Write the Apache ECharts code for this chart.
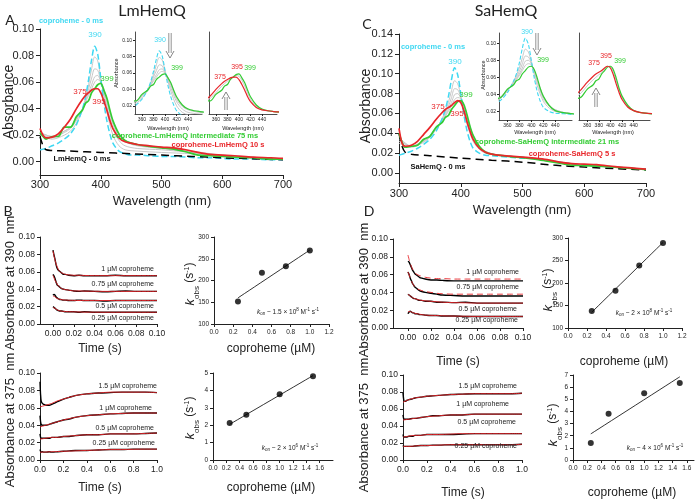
<!DOCTYPE html>
<html><head><meta charset="utf-8">
<script src="https://cdn.jsdelivr.net/npm/echarts@6/dist/echarts.min.js"></script>
<style>html,body{margin:0;padding:0;background:#fff}#c{width:700px;height:500px}</style>
</head><body><div id="c"></div>
<script>
// ---------- DATA ----------
const wl = [300,305,310,320,330,340,350,360,370,375,380,385,390,395,400,405,410,415,420,430,440,450,460,480,500,520,540,560,580,600,620,650,680,700];
const wlBlk = [300,305,310,320,350,400,450,500,550,600,650,700];
const wlG = [300,320,340,350,360,370,380,385,390,395,400,405,410,420,430,440,460,500,550,600,700];
// Panel A (LmHemQ)
const lmCopro0 = [0.009,0.0095,0.010,0.012,0.014,0.017,0.021,0.028,0.040,0.049,0.062,0.077,0.087,0.081,0.063,0.045,0.031,0.021,0.014,0.008,0.006,0.005,0.005,0.0045,0.004,0.004,0.0035,0.003,0.003,0.0025,0.002,0.002,0.0015,0.0015];
const lmInter75 = [0.022,0.019,0.017,0.019,0.019,0.026,0.026,0.034,0.039,0.044,0.046,0.052,0.055,0.058,0.059,0.054,0.048,0.039,0.031,0.021,0.016,0.014,0.013,0.0115,0.0105,0.0095,0.0075,0.005,0.0045,0.004,0.0035,0.003,0.002,0.002];
const lm10s = [0.025,0.020,0.018,0.0185,0.021,0.026,0.032,0.040,0.047,0.050,0.052,0.054,0.055,0.055,0.052,0.046,0.039,0.031,0.025,0.018,0.015,0.014,0.013,0.012,0.011,0.0105,0.009,0.007,0.0055,0.005,0.0045,0.0035,0.003,0.0025];
const lmEnz0 = [0.019,0.012,0.009,0.0085,0.008,0.007,0.006,0.005,0.004,0.003,0.0022,0.0015];
const lmGray = [
 [0.020,0.017,0.020,0.023,0.029,0.039,0.058,0.070,0.079,0.076,0.063,0.050,0.038,0.020,0.012,0.009,0.008,0.007,0.006,0.004,0.002],
 [0.021,0.018,0.022,0.025,0.031,0.040,0.055,0.063,0.070,0.069,0.061,0.052,0.042,0.025,0.016,0.012,0.010,0.009,0.007,0.005,0.002],
 [0.022,0.019,0.023,0.026,0.032,0.040,0.052,0.058,0.064,0.065,0.060,0.053,0.045,0.028,0.019,0.015,0.012,0.010,0.007,0.004,0.002],
 [0.022,0.019,0.023,0.026,0.033,0.040,0.050,0.055,0.060,0.062,0.060,0.055,0.047,0.030,0.020,0.016,0.013,0.011,0.008,0.005,0.002]
];
const lmGrayLate = [0.023,0.019,0.025,0.029,0.036,0.044,0.050,0.053,0.055,0.057,0.056,0.051,0.044,0.028,0.019,0.015,0.013,0.011,0.008,0.005,0.002];
// Panel C (SaHemQ)
const saCopro0 = [0.018,0.019,0.020,0.022,0.025,0.029,0.034,0.042,0.055,0.064,0.077,0.094,0.106,0.099,0.080,0.059,0.043,0.032,0.025,0.020,0.018,0.0175,0.017,0.016,0.015,0.0145,0.013,0.011,0.009,0.008,0.007,0.006,0.0045,0.004];
const saInter21 = [0.040,0.031,0.026,0.027,0.028,0.034,0.037,0.046,0.051,0.056,0.058,0.064,0.068,0.072,0.073,0.069,0.059,0.047,0.038,0.027,0.021,0.019,0.018,0.0165,0.0155,0.014,0.012,0.010,0.008,0.0075,0.007,0.006,0.0045,0.0035];
const sa5s = [0.045,0.030,0.027,0.028,0.032,0.039,0.046,0.054,0.061,0.064,0.066,0.068,0.071,0.073,0.071,0.063,0.052,0.042,0.034,0.025,0.021,0.019,0.018,0.017,0.016,0.015,0.0135,0.011,0.0095,0.009,0.0085,0.0065,0.005,0.004];
const saEnz0 = [0.040,0.027,0.021,0.019,0.0175,0.015,0.013,0.011,0.008,0.006,0.0045,0.003];
const saGray = [
 [0.030,0.026,0.031,0.036,0.044,0.055,0.071,0.083,0.093,0.090,0.078,0.063,0.050,0.032,0.024,0.020,0.018,0.016,0.012,0.008,0.004],
 [0.032,0.027,0.032,0.037,0.044,0.054,0.067,0.076,0.085,0.084,0.077,0.066,0.054,0.035,0.026,0.021,0.018,0.016,0.012,0.008,0.004],
 [0.034,0.027,0.032,0.037,0.045,0.053,0.064,0.071,0.079,0.080,0.076,0.067,0.056,0.037,0.027,0.022,0.018,0.016,0.012,0.008,0.004],
 [0.036,0.027,0.033,0.038,0.045,0.053,0.062,0.068,0.074,0.076,0.075,0.068,0.057,0.038,0.027,0.022,0.018,0.016,0.012,0.008,0.004]
];
const saGrayLate = [0.042,0.027,0.036,0.042,0.050,0.057,0.063,0.066,0.070,0.073,0.072,0.066,0.056,0.036,0.026,0.021,0.018,0.016,0.012,0.008,0.004];
// Kinetic traces, short time (s)
const tShort = [0,0.001,0.002,0.003,0.004,0.005,0.006,0.008,0.010,0.012,0.015,0.02,0.025,0.03,0.04,0.05,0.06,0.07,0.08,0.09,0.10];
const lm390 = {
 '1':    [0.085,0.079,0.074,0.068,0.064,0.062,0.061,0.059,0.057,0.057,0.056,0.0555,0.056,0.0555,0.0555,0.0555,0.056,0.0555,0.0555,0.0555,0.0555],
 '0.75': [0.057,0.055,0.052,0.048,0.045,0.044,0.043,0.041,0.040,0.0395,0.039,0.038,0.0375,0.038,0.0375,0.037,0.0375,0.038,0.0375,0.0375,0.0375],
 '0.5':  [0.033,0.034,0.033,0.031,0.030,0.029,0.0285,0.028,0.0275,0.0275,0.027,0.027,0.0275,0.027,0.027,0.0265,0.027,0.027,0.027,0.027,0.027],
 '0.25': [0.020,0.019,0.018,0.017,0.016,0.0155,0.015,0.015,0.0145,0.014,0.014,0.014,0.0135,0.014,0.0135,0.0135,0.0135,0.0135,0.0135,0.0135,0.0135]
};
const lm390fit = {
 '1':    [0.084,0.078,0.073,0.069,0.066,0.063,0.061,0.059,0.058,0.057,0.0565,0.056,0.056,0.0558,0.0556,0.0556,0.0556,0.0556,0.0556,0.0556,0.0556],
 '0.75': [0.056,0.053,0.050,0.048,0.046,0.044,0.043,0.041,0.040,0.0395,0.039,0.038,0.038,0.0378,0.0376,0.0375,0.0375,0.0375,0.0375,0.0375,0.0375],
 '0.5':  [0.032,0.032,0.031,0.030,0.0295,0.029,0.0285,0.028,0.0277,0.0275,0.0273,0.0271,0.027,0.027,0.027,0.027,0.027,0.027,0.027,0.027,0.027],
 '0.25': [0.019,0.0185,0.018,0.017,0.0163,0.0157,0.0153,0.0148,0.0145,0.0143,0.0141,0.014,0.0138,0.0137,0.0136,0.0135,0.0135,0.0135,0.0135,0.0135,0.0135]
};
const sa390 = {
 '1':    [0.075,0.074,0.071,0.068,0.065,0.063,0.061,0.059,0.057,0.056,0.055,0.054,0.054,0.0535,0.053,0.053,0.053,0.053,0.053,0.053,0.053],
 '0.75': [0.063,0.060,0.056,0.053,0.050,0.048,0.046,0.044,0.042,0.041,0.040,0.039,0.038,0.037,0.0365,0.036,0.036,0.036,0.036,0.036,0.036],
 '0.5':  [0.038,0.037,0.036,0.035,0.034,0.033,0.033,0.032,0.031,0.031,0.030,0.030,0.029,0.029,0.0285,0.029,0.028,0.028,0.028,0.028,0.028],
 '0.25': [0.016,0.018,0.019,0.018,0.017,0.017,0.016,0.016,0.015,0.015,0.0145,0.014,0.014,0.0135,0.0135,0.013,0.013,0.013,0.013,0.013,0.013]
};
const sa390fit = {
 '1':    [0.082,0.077,0.073,0.069,0.066,0.064,0.062,0.060,0.059,0.058,0.057,0.056,0.0555,0.0555,0.055,0.055,0.055,0.055,0.055,0.055,0.055],
 '0.75': [0.063,0.060,0.056,0.053,0.050,0.048,0.046,0.044,0.043,0.042,0.041,0.040,0.039,0.0385,0.038,0.038,0.038,0.038,0.038,0.038,0.038],
 '0.5':  [0.038,0.037,0.036,0.035,0.034,0.0335,0.033,0.032,0.0315,0.031,0.0305,0.030,0.0295,0.029,0.0285,0.0283,0.028,0.028,0.028,0.028,0.028],
 '0.25': [0.018,0.0185,0.0185,0.018,0.0175,0.017,0.0165,0.016,0.0155,0.015,0.0145,0.0142,0.014,0.0137,0.0134,0.0132,0.013,0.013,0.013,0.013,0.013]
};
// Kinetic traces, long time (s)
const tLong = [0,0.005,0.01,0.02,0.03,0.05,0.08,0.1,0.15,0.2,0.25,0.3,0.4,0.5,0.6,0.7,0.8,0.9,1.0];
const tFit = [0,0.05,0.1,0.15,0.2,0.3,0.4,0.5,0.6,0.7,0.8,0.9,1.0];
const lm375 = {
 '1.5':  [0.090,0.075,0.068,0.065,0.064,0.063,0.063,0.064,0.067,0.070,0.072,0.074,0.076,0.077,0.0775,0.078,0.078,0.078,0.0775],
 '1':    [0.051,0.044,0.041,0.040,0.040,0.040,0.041,0.042,0.044,0.046,0.047,0.049,0.051,0.052,0.053,0.0535,0.054,0.054,0.054],
 '0.5':  [0.030,0.026,0.025,0.025,0.025,0.025,0.025,0.026,0.026,0.027,0.027,0.028,0.029,0.029,0.030,0.030,0.030,0.0305,0.031],
 '0.25': [0.012,0.010,0.009,0.0095,0.009,0.009,0.0095,0.009,0.0095,0.010,0.0105,0.011,0.011,0.0115,0.012,0.012,0.0125,0.0125,0.0125]
};
const lm375fit = {
 '1.5':  [0.061,0.063,0.065,0.068,0.070,0.074,0.076,0.077,0.078,0.078,0.078,0.078,0.0775],
 '1':    [0.038,0.040,0.042,0.044,0.046,0.049,0.051,0.052,0.053,0.0535,0.054,0.054,0.054],
 '0.5':  [0.024,0.025,0.026,0.026,0.027,0.028,0.029,0.029,0.030,0.030,0.030,0.0305,0.031],
 '0.25': [0.009,0.0092,0.0095,0.0097,0.010,0.0105,0.011,0.0115,0.012,0.012,0.0123,0.0125,0.0125]
};
const sa375 = {
 '1.5':  [0.079,0.072,0.069,0.069,0.070,0.071,0.072,0.073,0.074,0.075,0.0755,0.076,0.077,0.0775,0.078,0.078,0.078,0.078,0.0785],
 '1':    [0.053,0.049,0.048,0.048,0.048,0.048,0.049,0.049,0.050,0.051,0.052,0.052,0.053,0.053,0.054,0.054,0.054,0.054,0.054],
 '0.5':  [0.030,0.027,0.027,0.027,0.027,0.028,0.028,0.029,0.029,0.030,0.030,0.030,0.030,0.0305,0.031,0.031,0.031,0.031,0.031],
 '0.25': [0.017,0.016,0.016,0.016,0.016,0.016,0.016,0.0165,0.017,0.017,0.0175,0.0175,0.018,0.018,0.018,0.018,0.018,0.018,0.0185]
};
const sa375fit = {
 '1.5':  [0.068,0.071,0.073,0.074,0.075,0.076,0.077,0.0775,0.078,0.078,0.078,0.078,0.0785],
 '1':    [0.047,0.048,0.049,0.050,0.051,0.052,0.053,0.053,0.054,0.054,0.054,0.054,0.054],
 '0.5':  [0.027,0.028,0.029,0.029,0.030,0.030,0.0305,0.031,0.031,0.031,0.031,0.031,0.031],
 '0.25': [0.016,0.016,0.0165,0.017,0.017,0.0175,0.018,0.018,0.018,0.018,0.018,0.018,0.0185]
};
// k_obs vs coproheme
const concTop = [0.25,0.5,0.75,1.0];
const concBot = [0.25,0.5,1.0,1.5];
const kobsLm390 = [152,218,233,269];
const kobsLm375 = [2.12,2.6,3.78,4.82];
const kobsSa390 = [138,183,239,289];
const kobsSa375 = [1.4,3.8,5.5,6.35];
const fitLm390 = [[0.25,160],[1.0,270]];
const fitLm375 = [[0.25,2.05],[1.5,4.85]];
const fitSa390 = [[0.25,135],[1.0,290]];
const fitSa375 = [[0.25,2.15],[1.5,6.85]];
// tick labels
const ticksWl = [300,400,500,600,700];
const ticksAbsA = [0,0.02,0.04,0.06,0.08,0.10];
const ticksAbsC = [0,0.02,0.04,0.06,0.08,0.10,0.12,0.14];
const ticksInsetX = [360,380,400,420,440];
const ticksInsetY = [0.02,0.04,0.06,0.08,0.10];
const ticksTshort = [0,0.02,0.04,0.06,0.08,0.10];
const ticksTlong = [0,0.2,0.4,0.6,0.8,1.0];
const ticksAbsK = [0,0.02,0.04,0.06,0.08,0.10];
const ticksConcTop = [0,0.2,0.4,0.6,0.8,1.0,1.2];
const ticksConcBot = [0,0.2,0.4,0.6,0.8,1.0,1.2,1.4,1.6];
const ticksK390 = [100,150,200,250,300];
const ticksK375Lm = [0,1,2,3,4,5];
const ticksK375Sa = [0,1,2,3,4,5,6,7];

// ---------- STYLE / LAYOUT ----------
const CYAN='#3fd8f2', GREEN='#33cc33', RED='#e8262a', GRAY='#c8c8c8', BLK='#000';
const FONT='Liberation Sans, Arial, sans-serif';
const zip=(xs,ys)=>xs.map((x,i)=>[x,ys[i]]);
const grids=[], xAxes=[], yAxes=[], series=[];
function fmt(d){return v=>v.toFixed(d);}
function addPanel(rect, xr, yr, xt, yt, opt){
  const i=grids.length;
  grids.push({left:rect[0],top:rect[1],width:rect[2],height:rect[3],containLabel:false});
  const fs=opt.fs||9, tl=opt.tl||3;
  xAxes.push({type:'value',gridIndex:i,min:xr[0],max:xr[1],
    axisLine:{show:true,onZero:false,lineStyle:{color:'#222',width:opt.lw||1}},
    axisTick:{show:true,length:tl,customValues:xt,lineStyle:{color:'#222'}},
    axisLabel:{show:opt.xl!==false,customValues:xt,fontSize:fs,color:'#222',fontFamily:FONT,margin:opt.xm||5,formatter:fmt(opt.xd)},
    splitLine:{show:false}});
  yAxes.push({type:'value',gridIndex:i,min:yr[0],max:yr[1],
    axisLine:{show:true,onZero:false,lineStyle:{color:'#222',width:opt.lw||1}},
    axisTick:{show:opt.yl!==false,length:tl,customValues:yt,lineStyle:{color:'#222'}},
    axisLabel:{show:opt.yl!==false,customValues:yt,fontSize:fs,color:'#222',fontFamily:FONT,margin:opt.ym||5,formatter:fmt(opt.yd)},
    splitLine:{show:false}});
  return i;
}
function line(i,data,color,w,dash,z){
  series.push({type:'line',xAxisIndex:i,yAxisIndex:i,data,symbol:'none',smooth:0.3,clip:true,
    lineStyle:{color,width:w||1.3,type:dash?(Array.isArray(dash)?dash:[6,4]):'solid'},z:z||2,animation:false,silent:true});
}
function pts(i,data){
  series.push({type:'scatter',xAxisIndex:i,yAxisIndex:i,data,symbol:'circle',symbolSize:6,
    itemStyle:{color:'#000'},z:5,animation:false,silent:true});
}

// Panel A main + insets
const gA = addPanel([40,29,243,146],[300,700],[-0.01,0.10],ticksWl,ticksAbsA,{fs:11,xd:0,yd:2,xm:4,ym:6,tl:4});
const gA1 = addPanel([135,32,67,82],[348,464],[0.01,0.11],ticksInsetX,ticksInsetY,{fs:5,xd:0,yd:2,xm:3,ym:3,tl:2,lw:0.8});
const gA2 = addPanel([209,32,68,82],[348,466],[0.01,0.11],ticksInsetX,ticksInsetY,{fs:5,xd:0,yd:2,xm:3,ym:3,tl:2,yl:false,lw:0.8});
[gA,gA1].forEach(g=>{ lmGray.forEach(a=>line(g,zip(wlG,a),GRAY,1)); });
line(gA2,zip(wlG,lmGrayLate),GRAY,1);
line(gA,zip(wl,lmCopro0),CYAN,1.5,[6,3],3); line(gA1,zip(wl,lmCopro0),CYAN,1.1,[4,2],3);
line(gA,zip(wlBlk,lmEnz0),BLK,1.5,[8,5],3);
line(gA,zip(wl,lmInter75),GREEN,1.7,false,4); line(gA1,zip(wl,lmInter75),GREEN,1.2,false,4); line(gA2,zip(wl,lmInter75),GREEN,1.2,false,4);
line(gA,zip(wl,lm10s),RED,1.7,false,4); line(gA2,zip(wl,lm10s),RED,1.2,false,4);

// Panel C main + insets
const gC = addPanel([399,34,247,149],[300,700],[-0.01,0.14],ticksWl,ticksAbsC,{fs:11,xd:0,yd:2,xm:5,ym:6,tl:4});
const gC1 = addPanel([499,33,73,87],[346,468],[0.01,0.112],ticksInsetX,ticksInsetY,{fs:5,xd:0,yd:2,xm:3,ym:3,tl:2,lw:0.8});
const gC2 = addPanel([579,33,71,87],[346,468],[0.01,0.112],ticksInsetX,ticksInsetY,{fs:5,xd:0,yd:2,xm:3,ym:3,tl:2,yl:false,lw:0.8});
[gC,gC1].forEach(g=>{ saGray.forEach(a=>line(g,zip(wlG,a),GRAY,1)); });
line(gC2,zip(wlG,saGrayLate),GRAY,1);
line(gC,zip(wl,saCopro0),CYAN,1.5,[6,3],3); line(gC1,zip(wl,saCopro0),CYAN,1.1,[4,2],3);
line(gC,zip(wlBlk,saEnz0),BLK,1.5,[8,5],3);
line(gC,zip(wl,saInter21),GREEN,1.7,false,4); line(gC1,zip(wl,saInter21),GREEN,1.2,false,4); line(gC2,zip(wl,saInter21),GREEN,1.2,false,4);
line(gC,zip(wl,sa5s),RED,1.7,false,4); line(gC2,zip(wl,sa5s),RED,1.2,false,4);

// Panel B
const gB1 = addPanel([40,237,117,87],[-0.0125,0.10],[0,0.10],ticksTshort,ticksAbsK,{fs:8.5,xd:2,yd:2});
const gB1r = addPanel([214,237,115,87],[0,1.2],[100,300],ticksConcTop,ticksK390,{fs:6.5,xd:1,yd:0});
const gB2 = addPanel([40,373,117,87],[0,1.0],[0,0.10],ticksTlong,ticksAbsK,{fs:8.5,xd:1,yd:2});
const gB2r = addPanel([213,373,120,87],[0,1.8],[0,5],ticksConcBot,ticksK375Lm,{fs:6.5,xd:1,yd:0});
Object.keys(lm390).forEach(k=>{ line(gB1,zip(tShort,lm390[k]),BLK,1.4,false,3); line(gB1,zip(tShort,lm390fit[k]),RED,0.9,false,4); });
Object.keys(lm375).forEach(k=>{ line(gB2,zip(tLong,lm375[k]),BLK,1.4,false,3); line(gB2,zip(tFit,lm375fit[k]),RED,0.9,false,4); });
line(gB1r,fitLm390,BLK,0.8); pts(gB1r,zip(concTop,kobsLm390));
line(gB2r,fitLm375,BLK,0.8); pts(gB2r,zip(concBot,kobsLm375));

// Panel D
const gD1 = addPanel([393,239,130,89],[-0.013,0.10],[0,0.10],ticksTshort,ticksAbsK,{fs:8.5,xd:2,yd:2});
const gD1r = addPanel([568,238,114,90],[0,1.2],[100,300],ticksConcTop,ticksK390,{fs:6.5,xd:1,yd:0});
const gD2 = addPanel([403,375,119,85],[0,1.0],[0,0.10],ticksTlong,ticksAbsK,{fs:8.5,xd:1,yd:2});
const gD2r = addPanel([573,375,121,85],[0,1.7],[0,7],ticksConcBot,ticksK375Sa,{fs:6.5,xd:1,yd:0});
Object.keys(sa390).forEach(k=>{ line(gD1,zip(tShort,sa390[k]),BLK,1.4,false,3); line(gD1,zip(tShort,sa390fit[k]),RED,0.9,(k==='1'||k==='0.75')?[6,4]:false,4); });
Object.keys(sa375).forEach(k=>{ line(gD2,zip(tLong,sa375[k]),BLK,1.4,false,3); line(gD2,zip(tFit,sa375fit[k]),RED,0.9,false,4); });
line(gD1r,fitSa390,BLK,0.8); pts(gD1r,zip(concTop,kobsSa390));
line(gD2r,fitSa375,BLK,0.8); pts(gD2r,zip(concBot,kobsSa375));

// ---------- TEXT ----------
const G=[];
function T(x,y,text,o){o=o||{};G.push({type:'text',x,y,rotation:o.rot?Math.PI/2:0,z:100,silent:true,
  style:{text,fill:o.c||'#222',fontSize:o.fs||10,fontWeight:o.b?'bold':'normal',fontFamily:o.ff||FONT,fontStyle:o.it?'italic':'normal',
  align:o.al||'center',verticalAlign:'middle',rich:o.rich}});}
function arrow(x,y1,y2){
  const d=y2>y1?-1:1;
  G.push({type:'polyline',silent:true,z:100,shape:{points:[[x-1.2,y1],[x-1.2,y2+d*5]]},style:{stroke:'#777',lineWidth:0.8,fill:null}});
  G.push({type:'polyline',silent:true,z:100,shape:{points:[[x+1.2,y1],[x+1.2,y2+d*5]]},style:{stroke:'#777',lineWidth:0.8,fill:null}});
  G.push({type:'polyline',silent:true,z:100,shape:{points:[[x-4,y2+d*7],[x,y2],[x+4,y2+d*7]]},style:{stroke:'#777',lineWidth:0.9,fill:null}});
}
const TF='Lato, Liberation Sans, sans-serif';
T(152,11,'LmHemQ',{fs:16,ff:TF}); T(506,11,'SaHemQ',{fs:16,ff:TF});
T(10,20,'A',{fs:14,ff:TF}); T(367,24,'C',{fs:14,ff:TF}); T(8,211,'B',{fs:14,ff:TF}); T(369,211,'D',{fs:14,ff:TF});
T(9,102,'Absorbance',{rot:1,fs:14}); T(366,106,'Absorbance',{rot:1,fs:14});
T(162,201,'Wavelength (nm)',{fs:13}); T(522,210,'Wavelength (nm)',{fs:13});
// A annotations
T(71,21,'coproheme - 0 ms',{c:CYAN,b:1,fs:7.5}); T(95,35,'390',{c:CYAN,fs:8});
T(107,79,'399',{c:GREEN,fs:8}); T(80,92,'375',{c:RED,fs:8}); T(99,102,'395',{c:RED,fs:8});
T(185,136,'coproheme-LmHemQ intermediate 75 ms',{c:GREEN,b:1,fs:7.5}); T(218,145,'coproheme-LmHemQ 10 s',{c:RED,b:1,fs:7.5});
T(82,159,'LmHemQ - 0 ms',{c:'#111',b:1,fs:7.5});
T(160,40,'390',{c:CYAN,fs:7}); T(177,68,'399',{c:GREEN,fs:7});
T(220,77,'375',{c:RED,fs:7}); T(237,67,'395',{c:RED,fs:7}); T(250,68,'399',{c:GREEN,fs:7});
T(168,128,'Wavelength (nm)',{fs:5.5}); T(243,128,'Wavelength (nm)',{fs:5.5}); T(116,73,'Absorbance',{rot:1,fs:5.5});
arrow(170,33,58); arrow(226,110,92);
// C annotations
T(433,47,'coproheme - 0 ms',{c:CYAN,b:1,fs:7.5}); T(455,62,'390',{c:CYAN,fs:8});
T(466,95,'399',{c:GREEN,fs:8}); T(438,107,'375',{c:RED,fs:8}); T(457,114,'395',{c:RED,fs:8});
T(547,142,'coproheme-SaHemQ intermediate 21 ms',{c:GREEN,b:1,fs:7.5}); T(572,154,'coproheme-SaHemQ 5 s',{c:RED,b:1,fs:7.5});
T(438,167,'SaHemQ - 0 ms',{c:'#111',b:1,fs:7.5});
T(527,32,'390',{c:CYAN,fs:7}); T(543,60,'399',{c:GREEN,fs:7});
T(594,63,'375',{c:RED,fs:7}); T(606,56,'395',{c:RED,fs:7}); T(620,61,'399',{c:GREEN,fs:7});
T(535,132,'Wavelength (nm)',{fs:5.5}); T(613,132,'Wavelength (nm)',{fs:5.5}); T(483,75,'Absorbance',{rot:1,fs:5.5});
arrow(537,33,55); arrow(596,107,88);
// B / D axis titles
T(10,283,'Absorbance at 390  nm',{rot:1,fs:13}); T(10,420,'Absorbance at 375  nm',{rot:1,fs:13});
T(364,290,'Absorbance at 390  nm',{rot:1,fs:13}); T(364,425,'Absorbance at 375  nm',{rot:1,fs:13});
T(100,349,'Time (s)',{fs:12}); T(100,488,'Time (s)',{fs:12}); T(458,362,'Time (s)',{fs:12}); T(463,493,'Time (s)',{fs:12});
T(271,349,'coproheme (µM)',{fs:12}); T(271,488,'coproheme (µM)',{fs:12}); T(624,362,'coproheme (µM)',{fs:12}); T(632,493,'coproheme (µM)',{fs:12});
const kRich={i:{fontStyle:'italic',fontSize:13,fontFamily:FONT,fill:'#222'},s:{fontSize:8,fontFamily:FONT,fill:'#222',verticalAlign:'bottom',padding:[0,0,-4,0]},n:{fontSize:12,fontFamily:FONT,fill:'#222'},p:{fontSize:7,fontFamily:FONT,fill:'#222',verticalAlign:'top',padding:[0,0,6,0]}};
const kTxt='{i|k}{s|obs}{n| (s}{p|-1}{n|)}';
[[190,284],[190,418],[548,290],[553,425]].forEach(p=>T(p[0],p[1],kTxt,{rot:1,rich:kRich}));
const onRich={i:{fontStyle:'italic',fontSize:6.5,fontFamily:FONT,fill:'#222'},s:{fontSize:4.5,fontFamily:FONT,fill:'#222',padding:[0,0,-3,0]},n:{fontSize:6.5,fontFamily:FONT,fill:'#222'},p:{fontSize:4.5,fontFamily:FONT,fill:'#222',padding:[0,0,4,0]}};
T(288,312,'{i|k}{s|on}{n| ~ 1.5 × 10}{p|8}{n| M}{p|-1}{n| s}{p|-1}',{rich:onRich});
T(290,448,'{i|k}{s|on}{n| ~ 2 × 10}{p|6}{n| M}{p|-1}{n| s}{p|-1}',{rich:onRich});
T(644,313,'{i|k}{s|on}{n| ~ 2 × 10}{p|8}{n| M}{p|-1}{n| s}{p|-1}',{rich:onRich});
T(655,448,'{i|k}{s|on}{n| ~ 4 × 10}{p|6}{n| M}{p|-1}{n| s}{p|-1}',{rich:onRich});
// trace labels
const TL={fs:7,al:'right'};
T(154,269,'1 µM coproheme',TL); T(154,284,'0.75 µM coproheme',TL); T(154,306,'0.5 µM coproheme',TL); T(154,318,'0.25 µM coproheme',TL);
T(157,386,'1.5 µM coproheme',TL); T(152,408,'1 µM coproheme',TL); T(154,428,'0.5 µM coproheme',TL); T(155,443,'0.25 µM coproheme',TL);
T(519,272,'1 µM coproheme',TL); T(519,287,'0.75 µM coproheme',TL); T(517,309,'0.5 µM coproheme',TL); T(518,320,'0.25 µM coproheme',TL);
T(517,386,'1.5 µM coproheme',TL); T(509,404,'1 µM coproheme',TL); T(516,422,'0.5 µM coproheme',TL); T(517,446,'0.25 µM coproheme',TL);

const chart=echarts.init(document.getElementById('c'),null,{renderer:'canvas'});
chart.setOption({backgroundColor:'#fff',animation:false,grid:grids,xAxis:xAxes,yAxis:yAxes,series,graphic:G});
</script></body></html>
